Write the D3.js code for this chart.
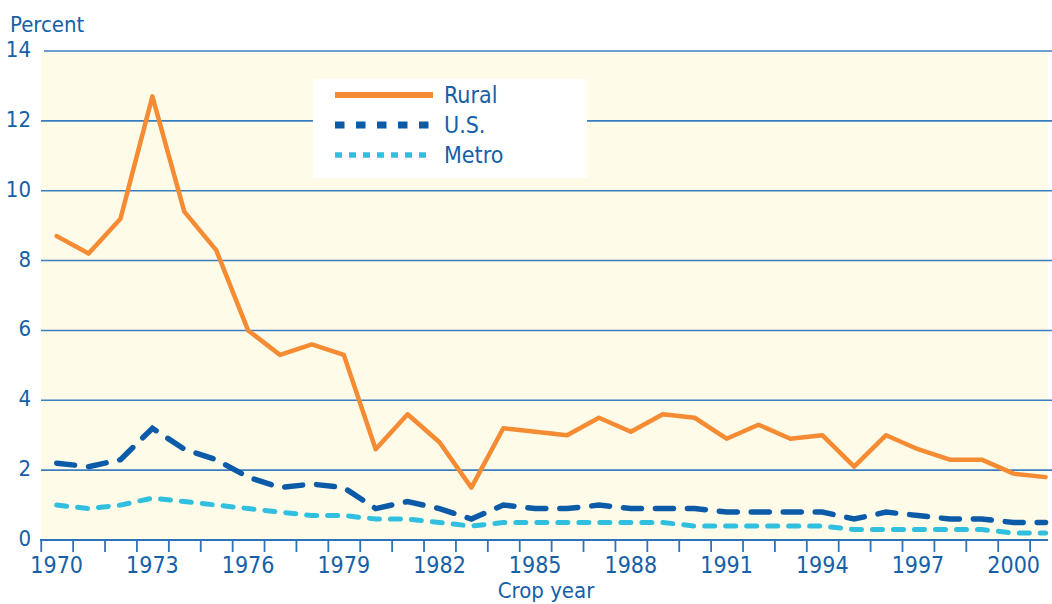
<!DOCTYPE html>
<html>
<head>
<meta charset="utf-8">
<script src="https://cdn.jsdelivr.net/npm/d3@7"></script>
<style>
  body { margin: 0; background: #fff; }
  text { font-family: "Liberation Sans Narrow", "DejaVu Sans Condensed", "Roboto", sans-serif; fill: #1560a8; }
</style>
</head>
<body>
<div id="chart"></div>
<script>
// Data
const years = d3.range(1970, 2002);
const rural = [8.7, 8.2, 9.2, 12.7, 9.4, 8.3, 6.0, 5.3, 5.6, 5.3,
  2.6, 3.6, 2.8, 1.5, 3.2, 3.1, 3.0, 3.5, 3.1, 3.6,
  3.5, 2.9, 3.3, 2.9, 3.0, 2.1, 3.0, 2.6, 2.3, 2.3,
  1.9, 1.8];
const us = [2.2, 2.1, 2.3, 3.2, 2.6, 2.3, 1.8, 1.5, 1.6, 1.5,
  0.9, 1.1, 0.9, 0.6, 1.0, 0.9, 0.9, 1.0, 0.9, 0.9,
  0.9, 0.8, 0.8, 0.8, 0.8, 0.6, 0.8, 0.7, 0.6, 0.6,
  0.5, 0.5];
const metro = [1.0, 0.9, 1.0, 1.2, 1.1, 1.0, 0.9, 0.8, 0.7, 0.7,
  0.6, 0.6, 0.5, 0.4, 0.5, 0.5, 0.5, 0.5, 0.5, 0.5,
  0.4, 0.4, 0.4, 0.4, 0.4, 0.3, 0.3, 0.3, 0.3, 0.3,
  0.2, 0.2];
const yTicks = [0, 2, 4, 6, 8, 10, 12, 14];
const xLabels = [1970, 1973, 1976, 1979, 1982, 1985, 1988, 1991, 1994, 1997, 2000];

const W = 1052, H = 604;
const plot = {left: 41, right: 1048, top: 51, bottom: 540};

const svg = d3.select("#chart")
  .append("svg")
  .attr("width", W)
  .attr("height", H);

const x = d3.scaleLinear().domain([1969.5, 2001.5]).range([40.75, 1061.5]);
const y = d3.scaleLinear().domain([0, 14]).range([plot.bottom, plot.top]);

// plot background
svg.append("rect")
  .attr("x", plot.left)
  .attr("y", plot.top)
  .attr("width", plot.right - plot.left)
  .attr("height", plot.bottom - plot.top)
  .attr("fill", "#fffbe9");

// horizontal grid lines
svg.append("g")
  .selectAll("line")
  .data(yTicks.filter(d => d > 0))
  .join("line")
  .attr("x1", d => d === 14 ? 44 : plot.left)
  .attr("x2", W)
  .attr("y1", d => y(d))
  .attr("y2", d => y(d))
  .attr("stroke", "#3a7ebf")
  .attr("stroke-width", 1.6);

// y labels
svg.append("g")
  .selectAll("text")
  .data(yTicks)
  .join("text")
  .attr("x", 31)
  .attr("y", d => y(d) + 6)
  .attr("text-anchor", "end")
  .style("font-size", "22px")
  .text(d => d);

svg.append("text")
  .attr("x", 10)
  .attr("y", 32)
  .style("font-size", "22px")
  .text("Percent");

// x axis
const xAxis = svg.append("g")
  .attr("transform", `translate(0,${plot.bottom})`)
  .call(d3.axisBottom(x)
    .tickValues(d3.range(1969.5, 2001, 1))
    .tickSize(12)
    .tickFormat(""));
xAxis.select(".domain")
  .attr("d", `M${plot.left - 1},0H${plot.right}`)
  .attr("stroke", "#2f72b8")
  .attr("stroke-width", 2);
xAxis.selectAll(".tick line")
  .attr("stroke", "#2f72b8")
  .attr("stroke-width", 1.8);

svg.append("g")
  .selectAll("text")
  .data(xLabels)
  .join("text")
  .attr("x", d => x(d))
  .attr("y", 573)
  .attr("text-anchor", "middle")
  .style("font-size", "23px")
  .text(d => d);

svg.append("text")
  .attr("x", 546)
  .attr("y", 598)
  .attr("text-anchor", "middle")
  .style("font-size", "22px")
  .text("Crop year");

// lines
const line = d3.line()
  .x((d, i) => x(years[i]))
  .y(d => y(d));

svg.append("path")
  .datum(metro)
  .attr("d", line)
  .attr("fill", "none")
  .attr("stroke", "#30bfdf")
  .attr("stroke-width", 5)
  .attr("stroke-linecap", "round")
  .attr("stroke-dasharray", "10,11");

svg.append("path")
  .datum(us)
  .attr("d", line)
  .attr("fill", "none")
  .attr("stroke", "#0b5ba8")
  .attr("stroke-width", 5.5)
  .attr("stroke-linecap", "round")
  .attr("stroke-dasharray", "18,14");

svg.append("path")
  .datum(rural)
  .attr("d", line)
  .attr("fill", "none")
  .attr("stroke", "#f58b32")
  .attr("stroke-width", 4.5)
  .attr("stroke-linejoin", "round")
  .attr("stroke-linecap", "round");

// legend
const legend = svg.append("g");
legend.append("rect")
  .attr("x", 313)
  .attr("y", 79)
  .attr("width", 274)
  .attr("height", 99)
  .attr("fill", "#ffffff");

const legendItems = [
  {name: "Rural", color: "#f58b32", dash: null, width: 6, y: 95},
  {name: "U.S.", color: "#0b5ba8", dash: "9.5,11.5", width: 7, y: 125},
  {name: "Metro", color: "#30bfdf", dash: "7,7", width: 5.5, y: 155}
];
legend.selectAll("line")
  .data(legendItems)
  .join("line")
  .attr("x1", 335)
  .attr("x2", 433)
  .attr("y1", d => d.y)
  .attr("y2", d => d.y)
  .attr("stroke", d => d.color)
  .attr("stroke-width", d => d.width)
  .attr("stroke-dasharray", d => d.dash);
legend.selectAll("text")
  .data(legendItems)
  .join("text")
  .attr("x", 444)
  .attr("y", d => d.y + 8)
  .style("font-size", "23px")
  .text(d => d.name);
</script>
</body>
</html>
